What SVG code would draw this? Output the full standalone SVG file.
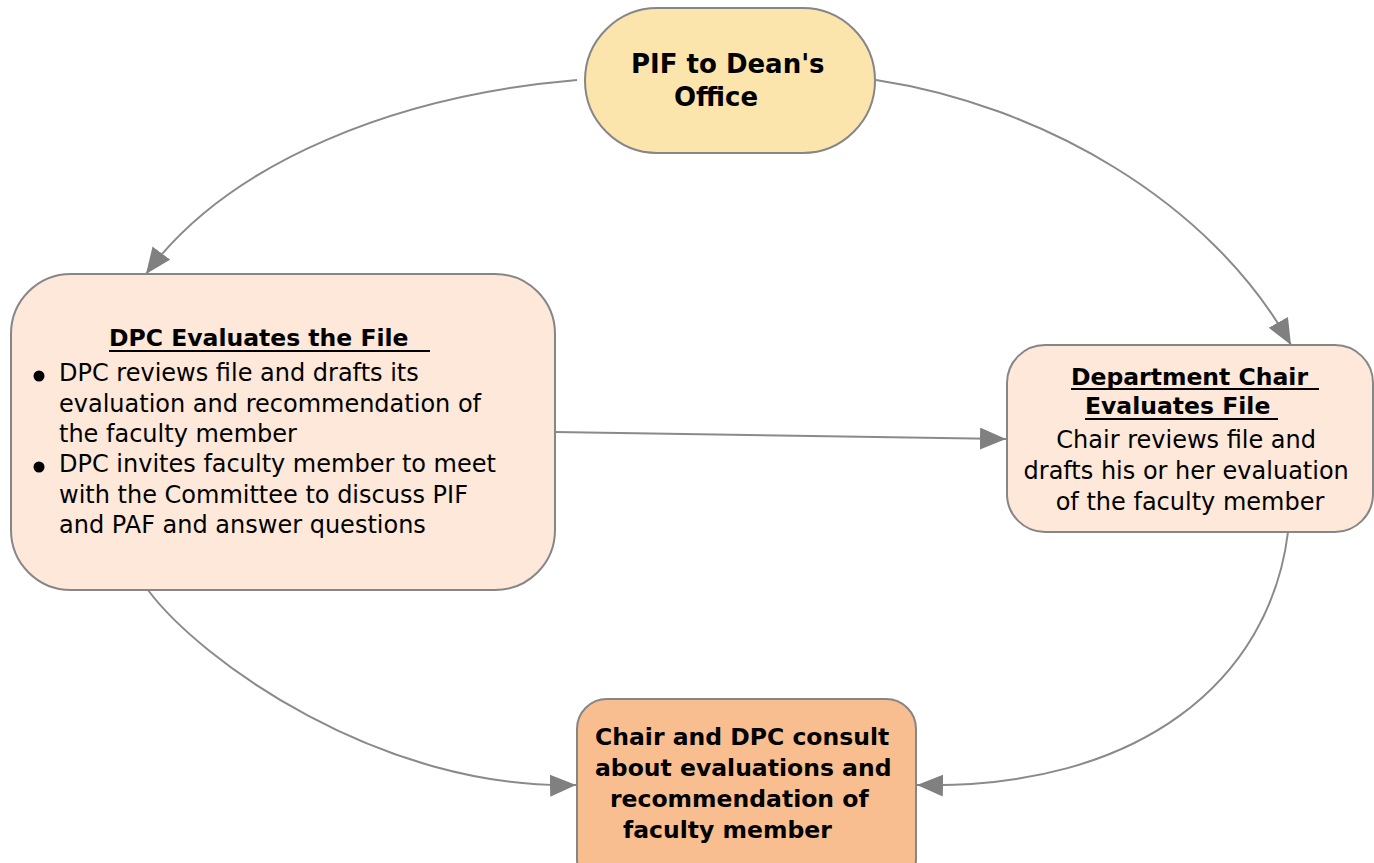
<svg xmlns="http://www.w3.org/2000/svg" width="1374" height="863" viewBox="0 0 1374 863">
<defs>
<style>
.node{stroke:#868686;stroke-width:2}
.conn{fill:none;stroke:#8a8a8a;stroke-width:2}
.b{font-family:"DejaVu Sans",Verdana,sans-serif;font-weight:bold;fill:#000}
.r{font-family:"DejaVu Sans",Verdana,sans-serif;fill:#000}
.ul{stroke:#000;stroke-width:2}
</style>
<marker id="arr" markerUnits="userSpaceOnUse" markerWidth="28" markerHeight="24" refX="26" refY="11" orient="auto">
<path d="M0,0 L26,11 L0,22 z" fill="#808080"/>
</marker>
</defs>
<rect width="1374" height="863" fill="#fff"/>
<g id="connectors">
<path class="conn" d="M577,80 C400,95 230,160 146,274" marker-end="url(#arr)"/>
<path class="conn" d="M876,80 C1040,105 1210,200 1291,345" marker-end="url(#arr)"/>
<path class="conn" d="M555,432 L1006,439" marker-end="url(#arr)"/>
<path class="conn" d="M148,590 C200,660 380,790 576,785" marker-end="url(#arr)"/>
<path class="conn" d="M1288,532 C1270,680 1140,790 917,785" marker-end="url(#arr)"/>
</g>
<g id="node-pif">
<rect class="node" x="585" y="8" width="290" height="145" rx="72.5" fill="#fbe5ad"/>
<text class="b" x="631" y="73" font-size="26">PIF to Dean's</text>
<text class="b" x="674" y="106" font-size="26">Office</text>
</g>
<g id="node-dpc">
<rect class="node" x="11" y="274" width="544" height="316" rx="60" fill="#fde8d9"/>
<text class="b" x="109" y="346" font-size="23.5">DPC Evaluates the File</text>
<line class="ul" x1="109" y1="351" x2="430" y2="351"/>
<circle cx="39" cy="376" r="5.5" fill="#000"/>
<circle cx="39" cy="467" r="5.5" fill="#000"/>
<text class="r" font-size="24">
<tspan x="59" y="381">DPC reviews file and drafts its</tspan>
<tspan x="59" y="412">evaluation and recommendation of</tspan>
<tspan x="59" y="442">the faculty member</tspan>
<tspan x="59" y="472">DPC invites faculty member to meet</tspan>
<tspan x="59" y="503">with the Committee to discuss PIF</tspan>
<tspan x="59" y="533">and PAF and answer questions</tspan>
</text>
</g>
<g id="node-chair">
<rect class="node" x="1007" y="345" width="366" height="187" rx="38" fill="#fde8d9"/>
<text class="b" x="1071" y="385" font-size="23.5">Department Chair</text>
<line class="ul" x1="1071" y1="389" x2="1319" y2="389"/>
<text class="b" x="1085" y="414" font-size="23.5">Evaluates File</text>
<line class="ul" x1="1085" y1="419" x2="1278" y2="419"/>
<text class="r" font-size="24" text-anchor="middle">
<tspan x="1190" y="448">Chair reviews file and</tspan>
<tspan x="1190" y="479">drafts his or her evaluation</tspan>
<tspan x="1190" y="510">of the faculty member</tspan>
</text>
</g>
<g id="node-consult">
<rect class="node" x="577" y="699" width="339" height="190" rx="30" fill="#f8be8f"/>
<text class="b" font-size="23.5">
<tspan x="595" y="745">Chair and DPC consult</tspan>
<tspan x="595" y="776">about evaluations and</tspan>
<tspan x="610" y="807">recommendation of</tspan>
<tspan x="623" y="838">faculty member</tspan>
</text>
</g>
</svg>
